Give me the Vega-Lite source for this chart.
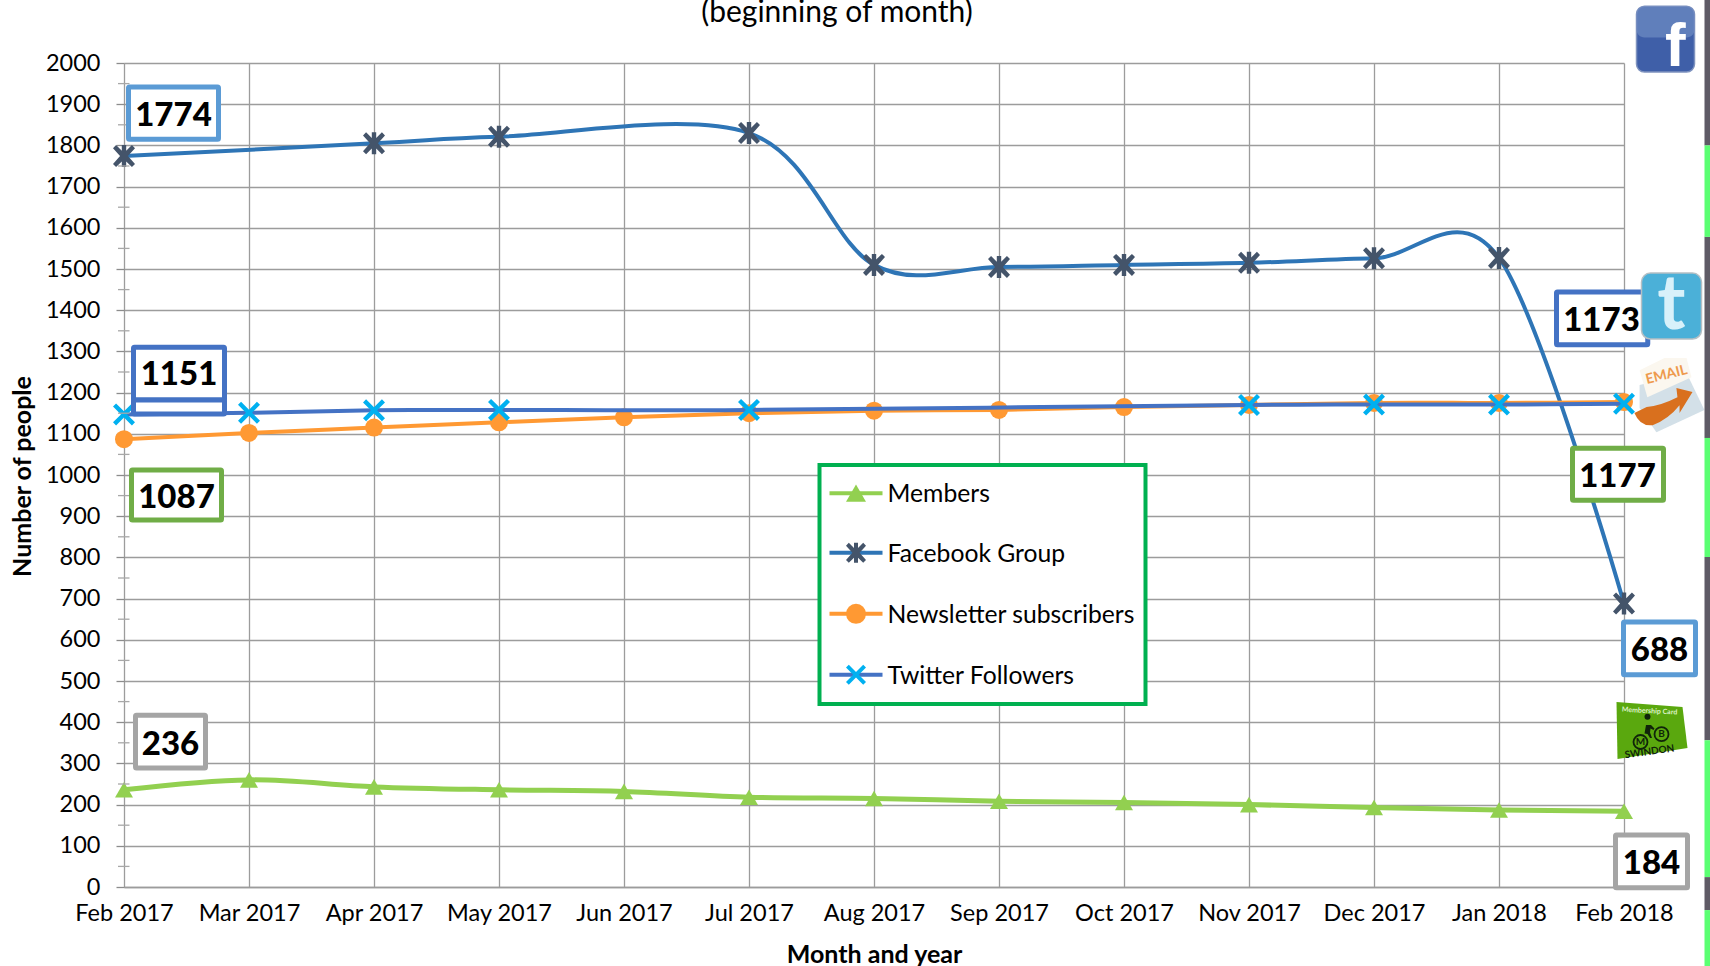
{
"$schema":"https://vega.github.io/schema/vega-lite/v6.json",
"width":1500,"height":824,
"autosize":{"type":"none"},
"padding":{"left":124,"top":63,"right":86,"bottom":79},
"background":"white",
"title":{"text":"(beginning of month)","font":"Lato","fontSize":30,"fontWeight":"normal","color":"#000000","anchor":"middle","frame":"group","dx":-37,"offset":0,"dy":28},
"config":{"legend":{"disable":true},"view":{"stroke":null},"text":{"font":"Lato"}},
"datasets":{
"series":[
{"month":"Feb 2017","series":"Members","value":236},{"month":"Mar 2017","series":"Members","value":260},{"month":"Apr 2017","series":"Members","value":243},{"month":"May 2017","series":"Members","value":236},{"month":"Jun 2017","series":"Members","value":232},{"month":"Jul 2017","series":"Members","value":218},{"month":"Aug 2017","series":"Members","value":215},{"month":"Sep 2017","series":"Members","value":208},{"month":"Oct 2017","series":"Members","value":205},{"month":"Nov 2017","series":"Members","value":200},{"month":"Dec 2017","series":"Members","value":193},{"month":"Jan 2018","series":"Members","value":187},{"month":"Feb 2018","series":"Members","value":184},
{"month":"Feb 2017","series":"Facebook Group","value":1774},{"month":"Apr 2017","series":"Facebook Group","value":1805},{"month":"May 2017","series":"Facebook Group","value":1821},{"month":"Jul 2017","series":"Facebook Group","value":1830},{"month":"Aug 2017","series":"Facebook Group","value":1510},{"month":"Sep 2017","series":"Facebook Group","value":1505},{"month":"Oct 2017","series":"Facebook Group","value":1510},{"month":"Nov 2017","series":"Facebook Group","value":1515},{"month":"Dec 2017","series":"Facebook Group","value":1526},{"month":"Jan 2018","series":"Facebook Group","value":1527},{"month":"Feb 2018","series":"Facebook Group","value":688},
{"month":"Feb 2017","series":"Newsletter subscribers","value":1087},{"month":"Mar 2017","series":"Newsletter subscribers","value":1102},{"month":"Apr 2017","series":"Newsletter subscribers","value":1115},{"month":"May 2017","series":"Newsletter subscribers","value":1128},{"month":"Jun 2017","series":"Newsletter subscribers","value":1140},{"month":"Jul 2017","series":"Newsletter subscribers","value":1150},{"month":"Aug 2017","series":"Newsletter subscribers","value":1156},{"month":"Sep 2017","series":"Newsletter subscribers","value":1158},{"month":"Oct 2017","series":"Newsletter subscribers","value":1165},{"month":"Nov 2017","series":"Newsletter subscribers","value":1170},{"month":"Dec 2017","series":"Newsletter subscribers","value":1175},{"month":"Jan 2018","series":"Newsletter subscribers","value":1175},{"month":"Feb 2018","series":"Newsletter subscribers","value":1177},
{"month":"Feb 2017","series":"Twitter Followers","value":1147},{"month":"Mar 2017","series":"Twitter Followers","value":1151},{"month":"Apr 2017","series":"Twitter Followers","value":1157},{"month":"May 2017","series":"Twitter Followers","value":1158},{"month":"Jul 2017","series":"Twitter Followers","value":1158},{"month":"Nov 2017","series":"Twitter Followers","value":1170},{"month":"Dec 2017","series":"Twitter Followers","value":1171},{"month":"Jan 2018","series":"Twitter Followers","value":1171},{"month":"Feb 2018","series":"Twitter Followers","value":1173}
],
"callouts":[
{"series":"Facebook Group","text":"1774","x0":0.036,"x1":0.756,"y0":1942,"y1":1815,"xc":0.396,"yc":1879},
{"series":"Twitter Followers","text":"1151","x0":0.076,"x1":0.804,"y0":1310,"y1":1182,"xc":0.44,"yc":1250},
{"series":"Twitter Followers","text":"","x0":0.076,"x1":0.804,"y0":1182,"y1":1148,"xc":0.44,"yc":1165},
{"series":"Newsletter subscribers","text":"1087","x0":0.06,"x1":0.78,"y0":1012,"y1":891,"xc":0.42,"yc":951},
{"series":"Members","text":"236","x0":0.092,"x1":0.652,"y0":417,"y1":289,"xc":0.372,"yc":353},
{"series":"Twitter Followers","text":"1173","x0":11.46,"x1":12.19,"y0":1444,"y1":1316,"xc":11.82,"yc":1381},
{"series":"Newsletter subscribers","text":"1177","x0":11.588,"x1":12.316,"y0":1065,"y1":939,"xc":11.948,"yc":1002},
{"series":"Facebook Group","text":"688","x0":11.996,"x1":12.572,"y0":643,"y1":515,"xc":12.284,"yc":580},
{"series":"Members","text":"184","x0":11.932,"x1":12.508,"y0":126,"y1":-2,"xc":12.22,"yc":63}
],
"legendRows":[
{"series":"Members","x0":5.644,"x1":6.068,"xm":5.856,"xt":6.116,"y":956},
{"series":"Facebook Group","x0":5.644,"x1":6.068,"xm":5.856,"xt":6.116,"y":811},
{"series":"Newsletter subscribers","x0":5.644,"x1":6.068,"xm":5.856,"xt":6.116,"y":663},
{"series":"Twitter Followers","x0":5.644,"x1":6.068,"xm":5.856,"xt":6.116,"y":515}
]
},
"layer":[
{"encoding":{
"x":{"field":"month","type":"ordinal","sort":["Feb 2017","Mar 2017","Apr 2017","May 2017","Jun 2017","Jul 2017","Aug 2017","Sep 2017","Oct 2017","Nov 2017","Dec 2017","Jan 2018","Feb 2018"],"scale":{"type":"point","padding":0},
"axis":{"title":"Month and year","titleFont":"Lato","titleFontSize":25,"titleFontWeight":"bold","titleColor":"#000000","titleY":75,"titleBaseline":"alphabetic","labelFont":"Lato","labelFontSize":23.5,"labelColor":"#000000","labelAngle":0,"labelOverlap":false,"labelPadding":14,"ticks":false,"grid":true,"gridColor":"#9c9c9c","gridWidth":1.3,"domainColor":"#9c9c9c","domainWidth":1.5}},
"y":{"field":"value","type":"quantitative","scale":{"domain":[0,2000],"nice":false,"zero":false},
"axis":{"title":"Number of people","titleFont":"Lato","titleFontSize":25,"titleFontWeight":"bold","titleColor":"#000000","titleX":-94,"titleY":413,"titleBaseline":"alphabetic","labelFont":"Lato","labelFontSize":23.5,"labelColor":"#000000","labelPadding":16,"format":"d","values":[0,100,200,300,400,500,600,700,800,900,1000,1100,1200,1300,1400,1500,1600,1700,1800,1900,2000],"labelOverlap":false,"tickSize":8,"tickColor":"#8c8c8c","tickWidth":1.3,"grid":true,"gridColor":"#9c9c9c","gridWidth":1.3,"domain":false}}
},
"layer":[
{"data":{"name":"series"},"transform":[{"filter":"datum.series === 'Members'"}],"mark":{"type":"line","interpolate":"cardinal","tension":0,"strokeWidth":5},"encoding":{"color":{"field":"series","type":"nominal","scale":{"domain":["Members","Facebook Group","Newsletter subscribers","Twitter Followers"],"range":["#92D050","#2E75B6","#FF9933","#4472C4"]}}}},
{"data":{"name":"series"},"transform":[{"filter":"datum.series === 'Members'"}],"mark":{"type":"point","filled":true,"size":324,"opacity":1,"strokeWidth":0},"encoding":{"fill":{"field":"series","type":"nominal","scale":{"domain":["Members","Facebook Group","Newsletter subscribers","Twitter Followers"],"range":["#92D050","#44546A","#FF9933","#00B0F0"]}},"shape":{"field":"series","type":"nominal","scale":{"domain":["Members","Facebook Group","Newsletter subscribers","Twitter Followers"],"range":["triangle-up","M-1,-0.72 L-0.72,-1 L-0.2,-0.48 L-0.2,-1 L0.2,-1 L0.2,-0.48 L0.72,-1 L1,-0.72 L0.36,0 L1,0.72 L0.72,1 L0.2,0.48 L0.2,1 L-0.2,1 L-0.2,0.48 L-0.72,1 L-1,0.72 L-0.36,0 Z","circle","M-1,-0.72 L-0.72,-1 L0,-0.28 L0.72,-1 L1,-0.72 L0.28,0 L1,0.72 L0.72,1 L0,0.28 L-0.72,1 L-1,0.72 L-0.28,0 Z"]}}}},
{"data":{"name":"series"},"transform":[{"filter":"datum.series === 'Facebook Group'"}],"mark":{"type":"line","interpolate":"cardinal","tension":0,"strokeWidth":4},"encoding":{"color":{"field":"series","type":"nominal"}}},
{"data":{"name":"series"},"transform":[{"filter":"datum.series === 'Facebook Group'"}],"mark":{"type":"point","filled":true,"size":484,"opacity":1,"strokeWidth":0},"encoding":{"fill":{"field":"series","type":"nominal"},"shape":{"field":"series","type":"nominal"}}},
{"data":{"name":"series"},"transform":[{"filter":"datum.series === 'Newsletter subscribers'"}],"mark":{"type":"line","interpolate":"cardinal","tension":0,"strokeWidth":4},"encoding":{"color":{"field":"series","type":"nominal"}}},
{"data":{"name":"series"},"transform":[{"filter":"datum.series === 'Newsletter subscribers'"}],"mark":{"type":"point","filled":true,"size":324,"opacity":1,"strokeWidth":0},"encoding":{"fill":{"field":"series","type":"nominal"},"shape":{"field":"series","type":"nominal"}}},
{"data":{"name":"series"},"transform":[{"filter":"datum.series === 'Twitter Followers'"}],"mark":{"type":"line","interpolate":"cardinal","tension":0,"strokeWidth":4},"encoding":{"color":{"field":"series","type":"nominal"}}},
{"data":{"name":"series"},"transform":[{"filter":"datum.series === 'Twitter Followers'"}],"mark":{"type":"point","filled":true,"size":484,"opacity":1,"strokeWidth":0},"encoding":{"fill":{"field":"series","type":"nominal"},"shape":{"field":"series","type":"nominal"}}}
]},
{"layer":[
{"data":{"values":[{"tick":50},{"tick":150},{"tick":250},{"tick":350},{"tick":450},{"tick":550},{"tick":650},{"tick":750},{"tick":850},{"tick":950},{"tick":1050},{"tick":1150},{"tick":1250},{"tick":1350},{"tick":1450},{"tick":1550},{"tick":1650},{"tick":1750},{"tick":1850},{"tick":1950}]},
"mark":{"type":"rule","color":"#a8a8a8","strokeWidth":1.3},
"encoding":{"x":{"datum":-0.048,"type":"quantitative","scale":{"domain":[0,12],"nice":false,"zero":false},"axis":null},"x2":{"datum":0.044},"y":{"field":"tick","type":"quantitative","scale":{"domain":[0,2000],"nice":false,"zero":false},"axis":null}}},
{"data":{"name":"callouts"},"mark":{"type":"rect","fill":"white","strokeWidth":5,"cornerRadius":1},
"encoding":{"x":{"field":"x0","type":"quantitative","axis":null},"x2":{"field":"x1"},"y":{"field":"y0","type":"quantitative","axis":null},"y2":{"field":"y1"},
"stroke":{"field":"series","type":"nominal","scale":{"domain":["Members","Facebook Group","Newsletter subscribers","Twitter Followers"],"range":["#A5A5A5","#5B9BD5","#70AD47","#4472C4"]}}}},
{"data":{"name":"callouts"},"mark":{"type":"text","font":"Lato","fontSize":33,"fontWeight":900,"color":"#000000","align":"center","baseline":"middle","dy":3},
"encoding":{"x":{"field":"xc","type":"quantitative","axis":null},"y":{"field":"yc","type":"quantitative","axis":null},"text":{"field":"text"}}},
{"data":{"values":[{"x0":5.564,"x1":8.172,"y0":1024,"y1":444}]},"mark":{"type":"rect","fill":"white","stroke":"#00B050","strokeWidth":4},
"encoding":{"x":{"field":"x0","type":"quantitative","axis":null},"x2":{"field":"x1"},"y":{"field":"y0","type":"quantitative","axis":null},"y2":{"field":"y1"}}},
{"data":{"name":"legendRows"},"mark":{"type":"rule","strokeWidth":4},
"encoding":{"x":{"field":"x0","type":"quantitative","axis":null},"x2":{"field":"x1"},"y":{"field":"y","type":"quantitative","axis":null},"color":{"field":"series","type":"nominal"}}},
{"data":{"name":"legendRows"},"mark":{"type":"point","filled":true,"size":400,"opacity":1,"strokeWidth":0},
"encoding":{"x":{"field":"xm","type":"quantitative","axis":null},"y":{"field":"y","type":"quantitative","axis":null},"fill":{"field":"series","type":"nominal"},"shape":{"field":"series","type":"nominal"}}},
{"data":{"name":"legendRows"},"mark":{"type":"text","font":"Lato","fontSize":24.7,"color":"#000000","align":"left","baseline":"middle","dy":2,"dx":-1},
"encoding":{"x":{"field":"xt","type":"quantitative","axis":null},"y":{"field":"y","type":"quantitative","axis":null},"text":{"field":"series"}}},
{"data":{"values":[{"x0":12.1,"x1":12.564,"y0":2138,"y1":1978}]},"mark":{"type":"rect","fill":"#3F5FA8","stroke":"#7f93bf","strokeWidth":1.5,"cornerRadius":8},
"encoding":{"x":{"field":"x0","type":"quantitative","axis":null},"x2":{"field":"x1"},"y":{"field":"y0","type":"quantitative","axis":null},"y2":{"field":"y1"}}},
{"data":{"values":[{"x0":12.1,"x1":12.564,"y0":2138,"y1":2062}]},"mark":{"type":"rect","fill":"#6c89c2","opacity":0.75,"cornerRadius":8},
"encoding":{"x":{"field":"x0","type":"quantitative","axis":null},"x2":{"field":"x1"},"y":{"field":"y0","type":"quantitative","axis":null},"y2":{"field":"y1"}}},
{"data":{"values":[{"t":"f","x":12.41,"y":2040}]},"mark":{"type":"text","font":"Liberation Sans","fontSize":62,"fontWeight":"bold","color":"white","align":"center","baseline":"middle"},
"encoding":{"x":{"field":"x","type":"quantitative","axis":null},"y":{"field":"y","type":"quantitative","axis":null},"text":{"field":"t"}}},
{"data":{"values":[{"x0":12.14,"x1":12.62,"y0":1490,"y1":1330}]},"mark":{"type":"rect","fill":"#4BB0D8","stroke":"#b5bfc4","strokeWidth":1.5,"cornerRadius":9},
"encoding":{"x":{"field":"x0","type":"quantitative","axis":null},"x2":{"field":"x1"},"y":{"field":"y0","type":"quantitative","axis":null},"y2":{"field":"y1"}}},
{"data":{"values":[{"t":"t","x":12.38,"y":1410}]},"mark":{"type":"text","font":"Lato","fontSize":76,"fontWeight":"bold","color":"#d8f1fa","align":"center","baseline":"middle"},
"encoding":{"x":{"field":"x","type":"quantitative","axis":null},"y":{"field":"y","type":"quantitative","axis":null},"text":{"field":"t"}}},
{"data":{"values":[{"icon":"envelope","x":12.38,"y":1194}]},"mark":{"type":"point","filled":true,"size":4900,"opacity":1,"fill":"#d3e0e8","stroke":"#b9c6cf","strokeWidth":0.02,"shape":"M-0.91,-0.29 L0.43,-0.63 L0.94,0.43 L-0.43,1.06 L-0.91,0.37 Z"},
"encoding":{"x":{"field":"x","type":"quantitative","axis":null},"y":{"field":"y","type":"quantitative","axis":null}}},
{"data":{"values":[{"icon":"paper","x":12.38,"y":1194}]},"mark":{"type":"point","filled":true,"size":4900,"opacity":1,"fill":"#fbf7ef","strokeWidth":0,"shape":"M-0.91,-0.71 L-0.2,-1.06 L0.43,-1.06 L0.57,-0.51 L-0.69,0.06 Z"},
"encoding":{"x":{"field":"x","type":"quantitative","axis":null},"y":{"field":"y","type":"quantitative","axis":null}}},
{"data":{"values":[{"t":"EMAIL","x":12.34,"y":1243}]},"mark":{"type":"text","font":"Lato","fontSize":14,"fontWeight":"bold","color":"#EE9A4D","angle":-14,"align":"center","baseline":"middle"},
"encoding":{"x":{"field":"x","type":"quantitative","axis":null},"y":{"field":"y","type":"quantitative","axis":null},"text":{"field":"t"}}},
{"data":{"values":[{"icon":"arrow","x":12.38,"y":1194}]},"mark":{"type":"point","filled":true,"size":4900,"opacity":1,"fill":"#D9701E","strokeWidth":0,"shape":"M-1.06,0.51 Q-0.9,0.9 -0.54,0.86 Q-0.1,0.7 0.23,0.29 L0.23,0.51 L0.6,-0.09 L0.14,-0.2 L0.17,0.06 Q-0.3,0.3 -0.71,0.34 Z"},
"encoding":{"x":{"field":"x","type":"quantitative","axis":null},"y":{"field":"y","type":"quantitative","axis":null}}},
{"data":{"values":[{"icon":"card","x":12.22,"y":381}]},"mark":{"type":"point","filled":true,"size":6400,"opacity":1,"fill":"#5AA80E","strokeWidth":0,"shape":"M-0.875,-0.7 L0.775,-0.575 L0.9,0.45 L-0.85,0.725 Z"},
"encoding":{"x":{"field":"x","type":"quantitative","axis":null},"y":{"field":"y","type":"quantitative","axis":null}}},
{"data":{"values":[{"t":"Membership Card","x":12.204,"y":427}]},"mark":{"type":"text","font":"Lato","fontSize":7,"fontWeight":"bold","color":"#dff3c8","angle":3,"align":"center","baseline":"middle"},
"encoding":{"x":{"field":"x","type":"quantitative","axis":null},"y":{"field":"y","type":"quantitative","axis":null},"text":{"field":"t"}}},
{"data":{"values":[{"x":12.132,"y":352},{"x":12.3,"y":371}]},"mark":{"type":"point","filled":false,"size":196,"stroke":"#10240a","strokeWidth":1.8,"opacity":1},
"encoding":{"x":{"field":"x","type":"quantitative","axis":null},"y":{"field":"y","type":"quantitative","axis":null}}},
{"data":{"values":[{"x":12.188,"y":413}]},"mark":{"type":"point","filled":true,"size":36,"fill":"#10240a","opacity":1,"strokeWidth":0},
"encoding":{"x":{"field":"x","type":"quantitative","axis":null},"y":{"field":"y","type":"quantitative","axis":null}}},
{"data":{"values":[{"x":12.2,"y":376}]},"mark":{"type":"point","filled":true,"size":400,"fill":"#10240a","opacity":1,"strokeWidth":0,"shape":"M-0.3,-0.7 L0.2,-0.7 L0.55,-0.35 L0.45,-0.2 L0.15,-0.35 L0.1,0.05 L0.3,0.6 L0.1,0.6 L-0.15,0.2 L-0.45,0.15 Z"},
"encoding":{"x":{"field":"x","type":"quantitative","axis":null},"y":{"field":"y","type":"quantitative","axis":null}}},
{"data":{"values":[{"t":"M","x":12.132,"y":352},{"t":"B","x":12.3,"y":371}]},"mark":{"type":"text","font":"Lato","fontSize":10,"fontWeight":"bold","color":"#10240a","align":"center","baseline":"middle"},
"encoding":{"x":{"field":"x","type":"quantitative","axis":null},"y":{"field":"y","type":"quantitative","axis":null},"text":{"field":"t"}}},
{"data":{"values":[{"t":"SWINDON","x":12.204,"y":328}]},"mark":{"type":"text","font":"Lato","fontSize":10,"fontWeight":"bold","color":"#10240a","angle":-8,"align":"center","baseline":"middle"},
"encoding":{"x":{"field":"x","type":"quantitative","axis":null},"y":{"field":"y","type":"quantitative","axis":null},"text":{"field":"t"}}},
{"data":{"values":[{"x0":12.644,"x1":12.69,"y0":2153,"y1":1800},{"x0":12.644,"x1":12.69,"y0":1578,"y1":1090},{"x0":12.644,"x1":12.69,"y0":801,"y1":356},{"x0":12.644,"x1":12.69,"y0":24,"y1":-56}]},"mark":{"type":"rect","fill":"#5f5b66"},
"encoding":{"x":{"field":"x0","type":"quantitative","axis":null},"x2":{"field":"x1"},"y":{"field":"y0","type":"quantitative","axis":null},"y2":{"field":"y1"}}},
{"data":{"values":[{"x0":12.644,"x1":12.69,"y0":1800,"y1":1578},{"x0":12.644,"x1":12.69,"y0":1090,"y1":801},{"x0":12.644,"x1":12.69,"y0":356,"y1":24},{"x0":12.644,"x1":12.69,"y0":-56,"y1":-192}]},"mark":{"type":"rect","fill":"#5BFF73"},
"encoding":{"x":{"field":"x0","type":"quantitative","axis":null},"x2":{"field":"x1"},"y":{"field":"y0","type":"quantitative","axis":null},"y2":{"field":"y1"}}}
]}
],
"resolve":{"scale":{"x":"independent","y":"independent"}}
}
